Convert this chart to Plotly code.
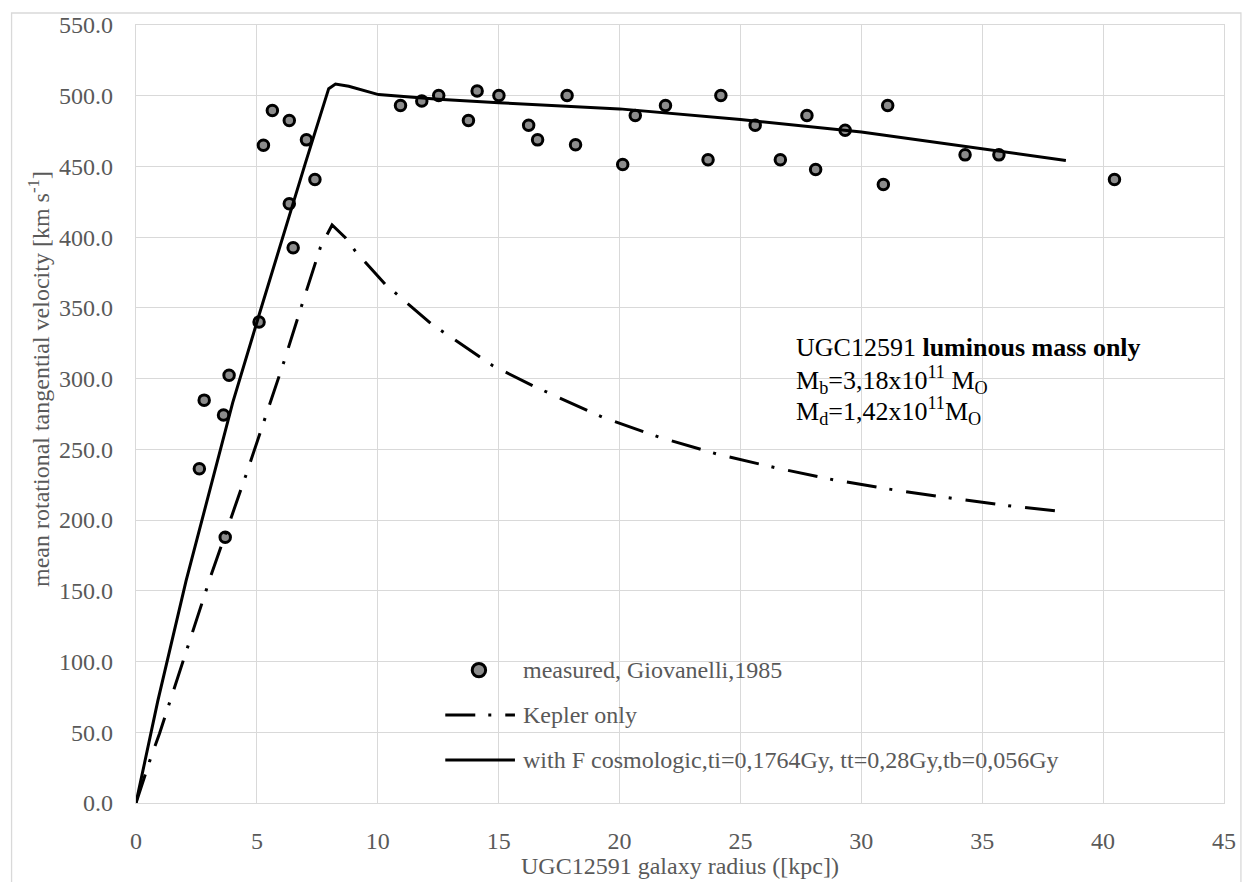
import plotly.graph_objects as go

# Measured rotation curve of UGC12591 (Giovanelli, 1985)
radius_measured = [2.62, 2.82, 3.62, 3.69, 3.85, 5.09, 5.27, 5.64, 6.34, 6.34, 6.50,
                   7.05, 7.40, 10.94, 11.82, 12.52, 13.75, 14.11, 15.01, 16.24, 16.61,
                   17.83, 18.18, 20.13, 20.65, 21.90, 23.66, 24.19, 25.61, 26.65, 27.75,
                   28.11, 29.33, 30.91, 31.09, 34.29, 35.69, 40.47]
velocity_measured = [236.3, 284.8, 274.3, 187.8, 302.4, 340.1, 465.0, 489.5, 482.5, 423.6,
                     392.5, 468.8, 440.8, 493.1, 496.3, 500.1, 482.5, 503.4, 500.1, 479.2,
                     468.8, 500.1, 465.3, 451.4, 486.0, 493.1, 454.7, 500.1, 479.2, 454.7,
                     486.0, 447.9, 475.6, 437.3, 493.1, 458.2, 458.2, 440.8]

# Kepler-only model curve
radius_kepler = [0, 0.56, 0.97, 3.10, 4.54, 5.34, 6.12, 6.87, 7.63, 8.11, 8.66, 9.07,
                 10.31, 12.23, 14.77, 16.42, 19.29, 21.64, 24.07, 26.47, 28.90, 31.36,
                 33.83, 36.30, 38.30]
velocity_kepler = [0, 29.4, 49.0, 160.8, 231.4, 271.6, 312.0, 352.6, 393.0, 408.6, 399.6,
                   390.2, 366.7, 338.5, 309.0, 294.9, 272.7, 258.6, 246.5, 236.9, 228.3,
                   221.3, 215.2, 209.7, 206.0]

# Model with cosmological force term
radius_cosmo = [0, 0.90, 2.07, 3.10, 4.00, 5.09, 6.05, 7.00, 7.97, 8.25,
                8.80, 10.03, 12.50, 15.0, 20.0, 25.0, 30.0, 35.0, 38.46]
velocity_cosmo = [0, 72.0, 157.0, 225.0, 283.0, 345.0, 399.0, 452.0, 505.0, 508.3,
                  506.7, 500.8, 497.5, 495.0, 490.7, 483.2, 474.4, 462.7, 454.2]

x_tick_values = list(range(0, 46, 5))
y_tick_values = list(range(0, 551, 50))

legend_labels = ["measured, Giovanelli,1985", "Kepler only",
                 "with F cosmologic,ti=0,1764Gy, tt=0,28Gy,tb=0,056Gy"]

W, H = 1248, 882
ML, MR, MT, MB = 136, 19, 24, 79
PW, PH = W - ML - MR, H - MT - MB

SERIF = "Liberation Serif, Times New Roman, serif"
GREY_TEXT = "#595959"
GRID = "#d9d9d9"
KEPLER_DASH = "30px,13px,3px,14px"


def pxx(x):
    return (x - ML) / PW


def pxy(y):
    return (H - MB - y) / PH


fig = go.Figure()

fig.add_trace(go.Scatter(
    x=radius_measured, y=velocity_measured, mode="markers",
    marker=dict(size=10.5, color="#8c8c8c", line=dict(color="black", width=3)),
    name=legend_labels[0], showlegend=False, cliponaxis=False))

fig.add_trace(go.Scatter(
    x=radius_kepler, y=velocity_kepler, mode="lines",
    line=dict(color="black", width=3, dash=KEPLER_DASH),
    name=legend_labels[1], showlegend=False))

fig.add_trace(go.Scatter(
    x=radius_cosmo, y=velocity_cosmo, mode="lines",
    line=dict(color="black", width=3),
    name=legend_labels[2], showlegend=False))

shapes = []
annotations = []

# outer chart border
shapes.append(dict(type="rect", xref="paper", yref="paper",
                   x0=pxx(11), x1=pxx(1246), y0=pxy(12), y1=pxy(892),
                   line=dict(color=GRID, width=1.3), fillcolor="rgba(0,0,0,0)", layer="below"))

# legend entries
leg_y = [670, 715, 760]
sym_x0, sym_x1, text_x = 446.7, 516.7, 523
shapes.append(dict(type="circle", xref="paper", yref="paper",
                   xsizemode="pixel", ysizemode="pixel",
                   xanchor=pxx(480.5), yanchor=pxy(leg_y[0]),
                   x0=-6.7, x1=6.7, y0=-6.7, y1=6.7,
                   fillcolor="#8c8c8c", line=dict(color="black", width=3)))
shapes.append(dict(type="line", xref="paper", yref="paper",
                   x0=pxx(sym_x0), x1=pxx(sym_x1), y0=pxy(leg_y[1]), y1=pxy(leg_y[1]),
                   line=dict(color="black", width=3, dash=KEPLER_DASH)))
shapes.append(dict(type="line", xref="paper", yref="paper",
                   x0=pxx(sym_x0), x1=pxx(sym_x1), y0=pxy(leg_y[2]), y1=pxy(leg_y[2]),
                   line=dict(color="black", width=3)))
for label, yy in zip(legend_labels, leg_y):
    annotations.append(dict(text=label, xref="paper", yref="paper",
                            x=pxx(text_x), y=pxy(yy), xanchor="left", yanchor="middle",
                            showarrow=False, font=dict(family=SERIF, size=24, color=GREY_TEXT)))

# galaxy description block
info_lines = ["UGC12591 <b>luminous mass only</b>",
              "M<sub>b</sub>=3,18x10<sup>11</sup> M<sub>O</sub>",
              "M<sub>d</sub>=1,42x10<sup>11</sup>M<sub>O</sub>"]
info_y = [347, 379, 410]
for line, yy in zip(info_lines, info_y):
    annotations.append(dict(text=line, xref="paper", yref="paper",
                            x=pxx(797), y=pxy(yy), xanchor="left", yanchor="middle",
                            showarrow=False, font=dict(family=SERIF, size=26, color="black")))

# axis titles
annotations.append(dict(text="UGC12591 galaxy radius ([kpc])", xref="paper", yref="paper",
                        x=pxx(682), y=pxy(866), xanchor="center", yanchor="middle",
                        showarrow=False, font=dict(family=SERIF, size=24, color=GREY_TEXT)))
annotations.append(dict(text="mean rotational tangential velocity [km s<sup>-1</sup>]",
                        xref="paper", yref="paper", textangle=-90,
                        x=pxx(38), y=pxy(378), xanchor="center", yanchor="middle",
                        showarrow=False, font=dict(family=SERIF, size=24, color=GREY_TEXT)))

fig.update_layout(
    width=W, height=H,
    margin=dict(l=ML, r=MR, t=MT, b=MB, pad=0),
    paper_bgcolor="white", plot_bgcolor="white",
    showlegend=False,
    shapes=shapes, annotations=annotations,
    xaxis=dict(range=[0, 45], tickvals=x_tick_values, ticktext=[str(v) for v in x_tick_values],
               showgrid=True, gridcolor=GRID, gridwidth=1.3, zeroline=False,
               showline=True, linecolor=GRID, linewidth=1.3, mirror=True,
               ticks="", ticklabelstandoff=16,
               tickfont=dict(family=SERIF, size=24, color=GREY_TEXT)),
    yaxis=dict(range=[0, 550], tickvals=y_tick_values,
               ticktext=[f"{v:.1f}" for v in y_tick_values],
               showgrid=True, gridcolor=GRID, gridwidth=1.3, zeroline=False,
               showline=True, linecolor=GRID, linewidth=1.3, mirror=True,
               ticks="", ticklabelstandoff=17,
               tickfont=dict(family=SERIF, size=24, color=GREY_TEXT)),
)

fig.write_html("out.html")
